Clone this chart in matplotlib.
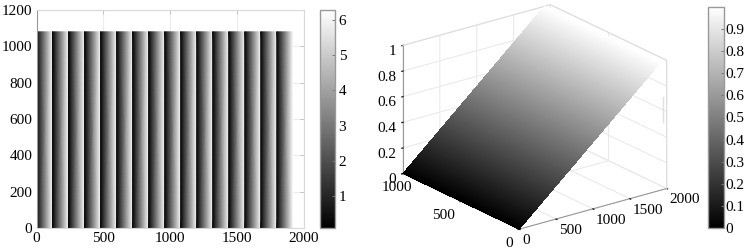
import numpy as np
import matplotlib
matplotlib.use('Agg')
import matplotlib.pyplot as plt
from matplotlib.lines import Line2D

plt.rcParams['font.family'] = ['Liberation Serif', 'DejaVu Serif']
plt.rcParams['font.size'] = 11
plt.rcParams['grid.color'] = '#e8e8e8'
plt.rcParams['grid.linewidth'] = 0.7

# wrapped phase stripes, 16 periods of 120 px over a 1920x1080 frame
stripe_starts = [0, 120, 240, 360, 480, 600, 720, 840, 960, 1080, 1200, 1320, 1440, 1560, 1680, 1800]
stripe_width = 120
frame_height = 1080
phase_min = 0.1
phase_max = 6.28

xticks_2d = [0, 500, 1000, 1500, 2000]
yticks_2d = [0, 200, 400, 600, 800, 1000, 1200]
phase_ticks = [1, 2, 3, 4, 5, 6]

# plane z = x / 1920 on the right
plane_xmax = 1920
plane_ymax = 1000
xticks_3d = [0, 500, 1000, 1500, 2000]
yticks_3d = [0, 500, 1000]
zticks_3d = [0, 0.2, 0.4, 0.6, 0.8, 1]
plane_ticks = [0, 0.1, 0.2, 0.3, 0.4, 0.5, 0.6, 0.7, 0.8, 0.9]

W, H = 746, 250
GREY = '#c4c4c4'


def box(l, t, r, b):
    return [l / W, 1 - b / H, (r - l) / W, (b - t) / H]


def set_limits(a3):
    a3.set_xlim(0, 2000, view_margin=0)
    a3.set_ylim(0, 1000, view_margin=0)
    a3.set_zlim(0, 1, view_margin=0)


fig = plt.figure(figsize=(W / 100, H / 100), dpi=100)

# left panel
ax = fig.add_axes(box(36.5, 10, 303.5, 228))
xs = []
cs = []
for s in stripe_starts:
    xs += [s, s + stripe_width]
    cs += [phase_min, phase_max]
xs = np.array(xs, dtype=float)
xs[1:-1:2] -= 0.01
grid_c = np.array([cs, cs])
m = ax.pcolormesh(xs, [0, frame_height], grid_c, shading='gouraud', cmap='gray',
                  vmin=phase_min, vmax=phase_max, zorder=2)
ax.set_xlim(0, 2000)
ax.set_ylim(0, 1200)
ax.set_xticks(xticks_2d)
ax.set_yticks(yticks_2d)
ax.grid(True, color='#ececec', linewidth=0.8, zorder=1)
ax.tick_params(direction='in', length=3, width=0.7, color=GREY, pad=3, top=True, right=True)
for sp in ax.spines.values():
    sp.set_color('#d8d8d8')
    sp.set_linewidth(0.8)
ax.spines['left'].set_color('#9a9a9a')

cax = fig.add_axes(box(319.5, 10, 334.5, 228))
cb = fig.colorbar(m, cax=cax)
cb.set_ticks(phase_ticks)
cb.ax.tick_params(direction='in', length=2, width=0.7, color='#777777', pad=3)
cb.outline.set_edgecolor('#999999')
cb.outline.set_linewidth(1)

# right panel
ax3 = fig.add_axes([0.5105, -0.084, 0.402, 1.2], projection='3d', computed_zorder=False)
ax3.patch.set_alpha(0)
ax3.set_proj_type('ortho')
ax3.view_init(elev=21.3, azim=-127.2)
ax3.set_box_aspect((183, 190, 136), zoom=0.972)

sx = np.linspace(0, plane_xmax, 241)
sy = [0, plane_ymax]
X, Y = np.meshgrid(sx, sy)
Z = X / plane_xmax
s = ax3.plot_surface(X, Y, Z, cmap='gray', vmin=0, vmax=1, rstride=1, cstride=1,
                     linewidth=0, antialiased=False, shade=False, zorder=5)

# top edges of the back walls
ax3.plot([0, 2000, 2000, 2000], [1000, 1000, 0, 0], [1, 1, 1, 0], color='#dddddd', lw=0.8, zorder=1)
set_limits(ax3)

ax3.set_xticks(xticks_3d)
ax3.set_yticks(yticks_3d)
ax3.set_zticks(zticks_3d)
ax3.set_zticklabels(['%g' % v for v in zticks_3d])
for a in (ax3.xaxis, ax3.yaxis, ax3.zaxis):
    a.set_pane_color((1, 1, 1, 0))
    a.pane.set_edgecolor('#e6e6e6')
    a.line.set_color('#999999')
    a.line.set_linewidth(0.8)
    a._axinfo['tick']['color'] = '#999999'
    a._axinfo['tick']['inward_factor'] = 0.1
    a._axinfo['tick']['outward_factor'] = 0.0
ax3.tick_params(axis='x', pad=-5)
ax3.tick_params(axis='y', pad=-3)
ax3.tick_params(axis='z', pad=-5)
for t in ax3.get_xticklabels():
    t.set_ha('left')
for t in ax3.get_zticklabels():
    t.set_ha('right')
ylabels = ax3.get_yticklabels()
ylabels[0].set_ha('right')
ylabels[1].set_ha('right')

cax2 = fig.add_axes(box(708, 7, 724, 228))
cb2 = fig.colorbar(s, cax=cax2)
cb2.set_ticks(plane_ticks)
cb2.set_ticklabels(['%g' % v for v in plane_ticks])
cb2.ax.tick_params(direction='in', length=2, width=0.7, color='#777777', pad=1)
cb2.outline.set_edgecolor('#999999')
cb2.outline.set_linewidth(1)

# faint stray mark right of the plane
fig.add_artist(Line2D([663 / W, 663 / W], [1 - 122 / H, 1 - 97 / H], color='#e0e0e0', lw=1))

fig.savefig('out.png', dpi=100)
